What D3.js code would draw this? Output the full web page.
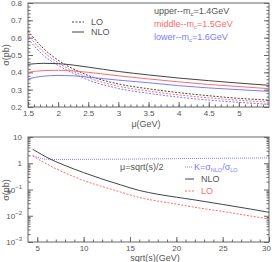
<!DOCTYPE html>
<html>
<head>
<meta charset="utf-8">
<script src="https://cdn.jsdelivr.net/npm/d3@7"></script>
<style>
  body { margin: 0; background: #fff; }
  svg text { font-family: "Liberation Sans", Arial, sans-serif; fill: #555; }
  .domain { stroke: #666; }
  .tick line { stroke: #666; }
</style>
</head>
<body>
<div id="chart"></div>
<script>
// top panel: sigma vs mu
var mu = [1.5, 1.75, 2, 2.25, 2.5, 3, 3.5, 4, 4.5, 5, 5.5];
var lo_up  = [0.639, 0.54, 0.47, 0.42, 0.382, 0.333, 0.305, 0.283, 0.265, 0.25, 0.24];
var lo_mid = [0.615, 0.52, 0.455, 0.407, 0.369, 0.32, 0.292, 0.27, 0.253, 0.239, 0.228];
var lo_low = [0.595, 0.50, 0.44, 0.395, 0.356, 0.307, 0.279, 0.257, 0.24, 0.227, 0.215];
var nlo_up  = [0.446, 0.452, 0.45, 0.442, 0.43, 0.405, 0.385, 0.367, 0.352, 0.338, 0.325];
var nlo_mid = [0.40, 0.41, 0.412, 0.408, 0.40, 0.38, 0.362, 0.345, 0.33, 0.318, 0.306];
var nlo_low = [0.362, 0.378, 0.382, 0.38, 0.372, 0.355, 0.34, 0.323, 0.31, 0.30, 0.29];

// bottom panel: sigma vs sqrt(s)
var rs   = [4.5, 5, 6, 7, 8, 10, 12, 14, 16, 18, 20, 22, 25, 28, 30];
var nlo  = [3.4, 2.7, 1.7, 1.15, 0.82, 0.44, 0.25, 0.15, 0.092, 0.066, 0.051, 0.04, 0.027, 0.018, 0.0135];
var lo   = [1.9, 1.5, 0.95, 0.62, 0.43, 0.22, 0.13, 0.08, 0.05, 0.036, 0.028, 0.021, 0.0145, 0.0098, 0.0075];
var kfac = [2.0, 1.7, 1.42, 1.4, 1.4, 1.41, 1.42, 1.43, 1.45, 1.47, 1.5, 1.52, 1.55, 1.58, 1.6];

var cBlack = "#444", cRed = "#ff6b6b", cBlue = "#7b7bff";

var svg = d3.select("#chart").append("svg")
    .attr("width", 272).attr("height", 262);

// ---------- top panel ----------
var x1 = d3.scaleLinear().domain([1.5, 5.5]).range([28, 269]);
var y1 = d3.scaleLinear().domain([0.2, 0.8]).range([107, 3]);

function frame(x, y) {
  svg.append("rect")
    .attr("x", x.range()[0]).attr("y", y.range()[1])
    .attr("width", x.range()[1] - x.range()[0])
    .attr("height", y.range()[0] - y.range()[1])
    .attr("fill", "none").attr("stroke", "#666").attr("stroke-width", 1);
}

function styleAxis(g) {
  g.select(".domain").remove();
  g.selectAll("text").style("font-size", "8px").style("fill", "#555");
}

frame(x1, y1);

// x axis, major + minor ticks inward
svg.append("g").attr("transform", "translate(0,107)")
  .call(d3.axisBottom(x1).tickValues(d3.range(1.5, 5.01, 0.5)).tickSize(-5).tickPadding(3)
        .tickFormat(function(d) { return d3.format("")(+d.toFixed(1)); }))
  .call(styleAxis);
svg.append("g").attr("transform", "translate(0,107)")
  .call(d3.axisBottom(x1).tickValues(d3.range(1.5, 5.5, 0.1)).tickSize(-2.5).tickFormat(""))
  .call(styleAxis);
// y axis
svg.append("g").attr("transform", "translate(28,0)")
  .call(d3.axisLeft(y1).tickValues(d3.range(0.2, 0.81, 0.1)).tickSize(-5).tickPadding(6)
        .tickFormat(d3.format(".1f")))
  .call(styleAxis);
svg.append("g").attr("transform", "translate(28,0)")
  .call(d3.axisLeft(y1).tickValues(d3.range(0.2, 0.8, 0.02)).tickSize(-2.5).tickFormat(""))
  .call(styleAxis);
svg.append("g").attr("transform", "translate(269,0)")
  .call(d3.axisRight(y1).tickValues(d3.range(0.2, 0.81, 0.1)).tickSize(-5).tickFormat(""))
  .call(styleAxis);
svg.append("g").attr("transform", "translate(269,0)")
  .call(d3.axisRight(y1).tickValues(d3.range(0.2, 0.8, 0.02)).tickSize(-2.5).tickFormat(""))
  .call(styleAxis);

var line1 = d3.line().curve(d3.curveMonotoneX)
    .x(function(d) { return x1(d[0]); })
    .y(function(d) { return y1(d[1]); });

var topSeries = [
  [lo_up, cBlack, "2,1.5"], [lo_mid, cRed, "2,1.5"], [lo_low, cBlue, "2,1.5"],
  [nlo_up, cBlack, null], [nlo_mid, cRed, null], [nlo_low, cBlue, null]
];
topSeries.forEach(function(s) {
  svg.append("path")
    .datum(d3.zip(mu, s[0]))
    .attr("fill", "none").attr("stroke", s[1]).attr("stroke-width", 1)
    .attr("stroke-dasharray", s[2])
    .attr("d", line1);
});

// labels
svg.append("text").attr("transform", "translate(9,55) rotate(-90)")
  .attr("text-anchor", "middle").style("font-size", "9px").text("σ(pb)");
svg.append("text").attr("x", 146).attr("y", 127)
  .attr("text-anchor", "middle").style("font-size", "9px").text("μ(GeV)");

// legend LO / NLO
svg.append("line").attr("x1", 72).attr("x2", 84).attr("y1", 22).attr("y2", 22)
  .attr("stroke", cBlack).attr("stroke-dasharray", "2,1.5");
svg.append("line").attr("x1", 72).attr("x2", 84).attr("y1", 32).attr("y2", 32)
  .attr("stroke", cBlack);
svg.append("text").attr("x", 91).attr("y", 25).style("font-size", "9px").text("LO");
svg.append("text").attr("x", 91).attr("y", 35).style("font-size", "9px").text("NLO");

var mcLeg = [["upper--m", "=1.4GeV", "#555", 14], ["middle--m", "=1.5GeV", cRed, 27], ["lower--m", "=1.6GeV", cBlue, 40]];
mcLeg.forEach(function(l) {
  var t = svg.append("text").attr("x", 154).attr("y", l[3]).style("font-size", "9px").style("fill", l[2]);
  t.append("tspan").text(l[0]);
  t.append("tspan").attr("dy", 2).style("font-size", "6px").text("c");
  t.append("tspan").attr("dy", -2).text(l[1]);
});

// ---------- bottom panel ----------
var x2 = d3.scaleLinear().domain([4, 30]).range([28, 269]);
var y2 = d3.scaleLog().domain([1e-3, 10]).range([242, 137]);

frame(x2, y2);

var xAx2 = svg.append("g").attr("transform", "translate(0,242)")
  .call(d3.axisBottom(x2).tickValues([5, 10, 15, 20, 25, 30]).tickSize(-5).tickPadding(3))
  .call(styleAxis);
xAx2.selectAll(".tick text").filter(function(d) { return d === 30; }).attr("dx", -3);
svg.append("g").attr("transform", "translate(0,242)")
  .call(d3.axisBottom(x2).tickValues(d3.range(5, 30, 1)).tickSize(-2.5).tickFormat(""))
  .call(styleAxis);

var decades = [1e-3, 1e-2, 1e-1, 1, 10];
var minorLog = [];
[1e-3, 1e-2, 1e-1, 1].forEach(function(d) {
  for (var k = 2; k <= 9; k++) minorLog.push(d * k);
});

var yAx = svg.append("g").attr("transform", "translate(28,0)")
  .call(d3.axisLeft(y2).tickValues(decades).tickSize(-5).tickPadding(6).tickFormat(""))
  .call(styleAxis);
yAx.selectAll(".tick text").each(function(d) {
  var e = Math.round(Math.log10(d));
  var t = d3.select(this).style("font-size", "8px");
  if (e === 0) { t.text("1"); return; }
  if (e === 1) { t.text("10"); return; }
  t.append("tspan").text("10");
  t.append("tspan").attr("dy", -4).style("font-size", "6px").text(String(e).replace("-", "−"));
});
svg.append("g").attr("transform", "translate(28,0)")
  .call(d3.axisLeft(y2).tickValues(minorLog).tickSize(-2.5).tickFormat(""))
  .call(styleAxis);
svg.append("g").attr("transform", "translate(269,0)")
  .call(d3.axisRight(y2).tickValues(decades).tickSize(-5).tickFormat(""))
  .call(styleAxis);
svg.append("g").attr("transform", "translate(269,0)")
  .call(d3.axisRight(y2).tickValues(minorLog).tickSize(-2.5).tickFormat(""))
  .call(styleAxis);

var line2 = d3.line().curve(d3.curveMonotoneX)
    .x(function(d) { return x2(d[0]); })
    .y(function(d) { return y2(d[1]); });

svg.append("path").datum(d3.zip(rs, kfac))
  .attr("fill", "none").attr("stroke", cBlue).attr("stroke-width", 1)
  .attr("stroke-dasharray", "1,1").attr("d", line2);
svg.append("path").datum(d3.zip(rs, nlo))
  .attr("fill", "none").attr("stroke", cBlack).attr("stroke-width", 1).attr("d", line2);
svg.append("path").datum(d3.zip(rs, lo))
  .attr("fill", "none").attr("stroke", cRed).attr("stroke-width", 1)
  .attr("stroke-dasharray", "2,1.5").attr("d", line2);

svg.append("text").attr("transform", "translate(9,190) rotate(-90)")
  .attr("text-anchor", "middle").style("font-size", "9px").text("σ(pb)");
svg.append("text").attr("x", 155).attr("y", 261)
  .attr("text-anchor", "middle").style("font-size", "9px").text("sqrt(s)(GeV)");

svg.append("text").attr("x", 120).attr("y", 170).style("font-size", "9px").text("μ=sqrt(s)/2");

// legend bottom
svg.append("line").attr("x1", 185).attr("x2", 192).attr("y1", 167).attr("y2", 167)
  .attr("stroke", cBlue).attr("stroke-dasharray", "1,1");
svg.append("line").attr("x1", 185).attr("x2", 194).attr("y1", 179).attr("y2", 179)
  .attr("stroke", cBlack);
svg.append("line").attr("x1", 185).attr("x2", 194).attr("y1", 191).attr("y2", 191)
  .attr("stroke", cRed).attr("stroke-dasharray", "2,1.5");

var kt = svg.append("text").attr("x", 194).attr("y", 170).style("font-size", "9px").style("fill", cBlue);
kt.append("tspan").text("K=σ");
kt.append("tspan").attr("dy", 2).style("font-size", "5.5px").text("NLO");
kt.append("tspan").attr("dy", -2).text("/σ");
kt.append("tspan").attr("dy", 2).style("font-size", "5.5px").text("LO");
svg.append("text").attr("x", 201).attr("y", 182).style("font-size", "9px").text("NLO");
svg.append("text").attr("x", 201).attr("y", 194).style("font-size", "9px").style("fill", cRed).text("LO");
</script>
</body>
</html>
